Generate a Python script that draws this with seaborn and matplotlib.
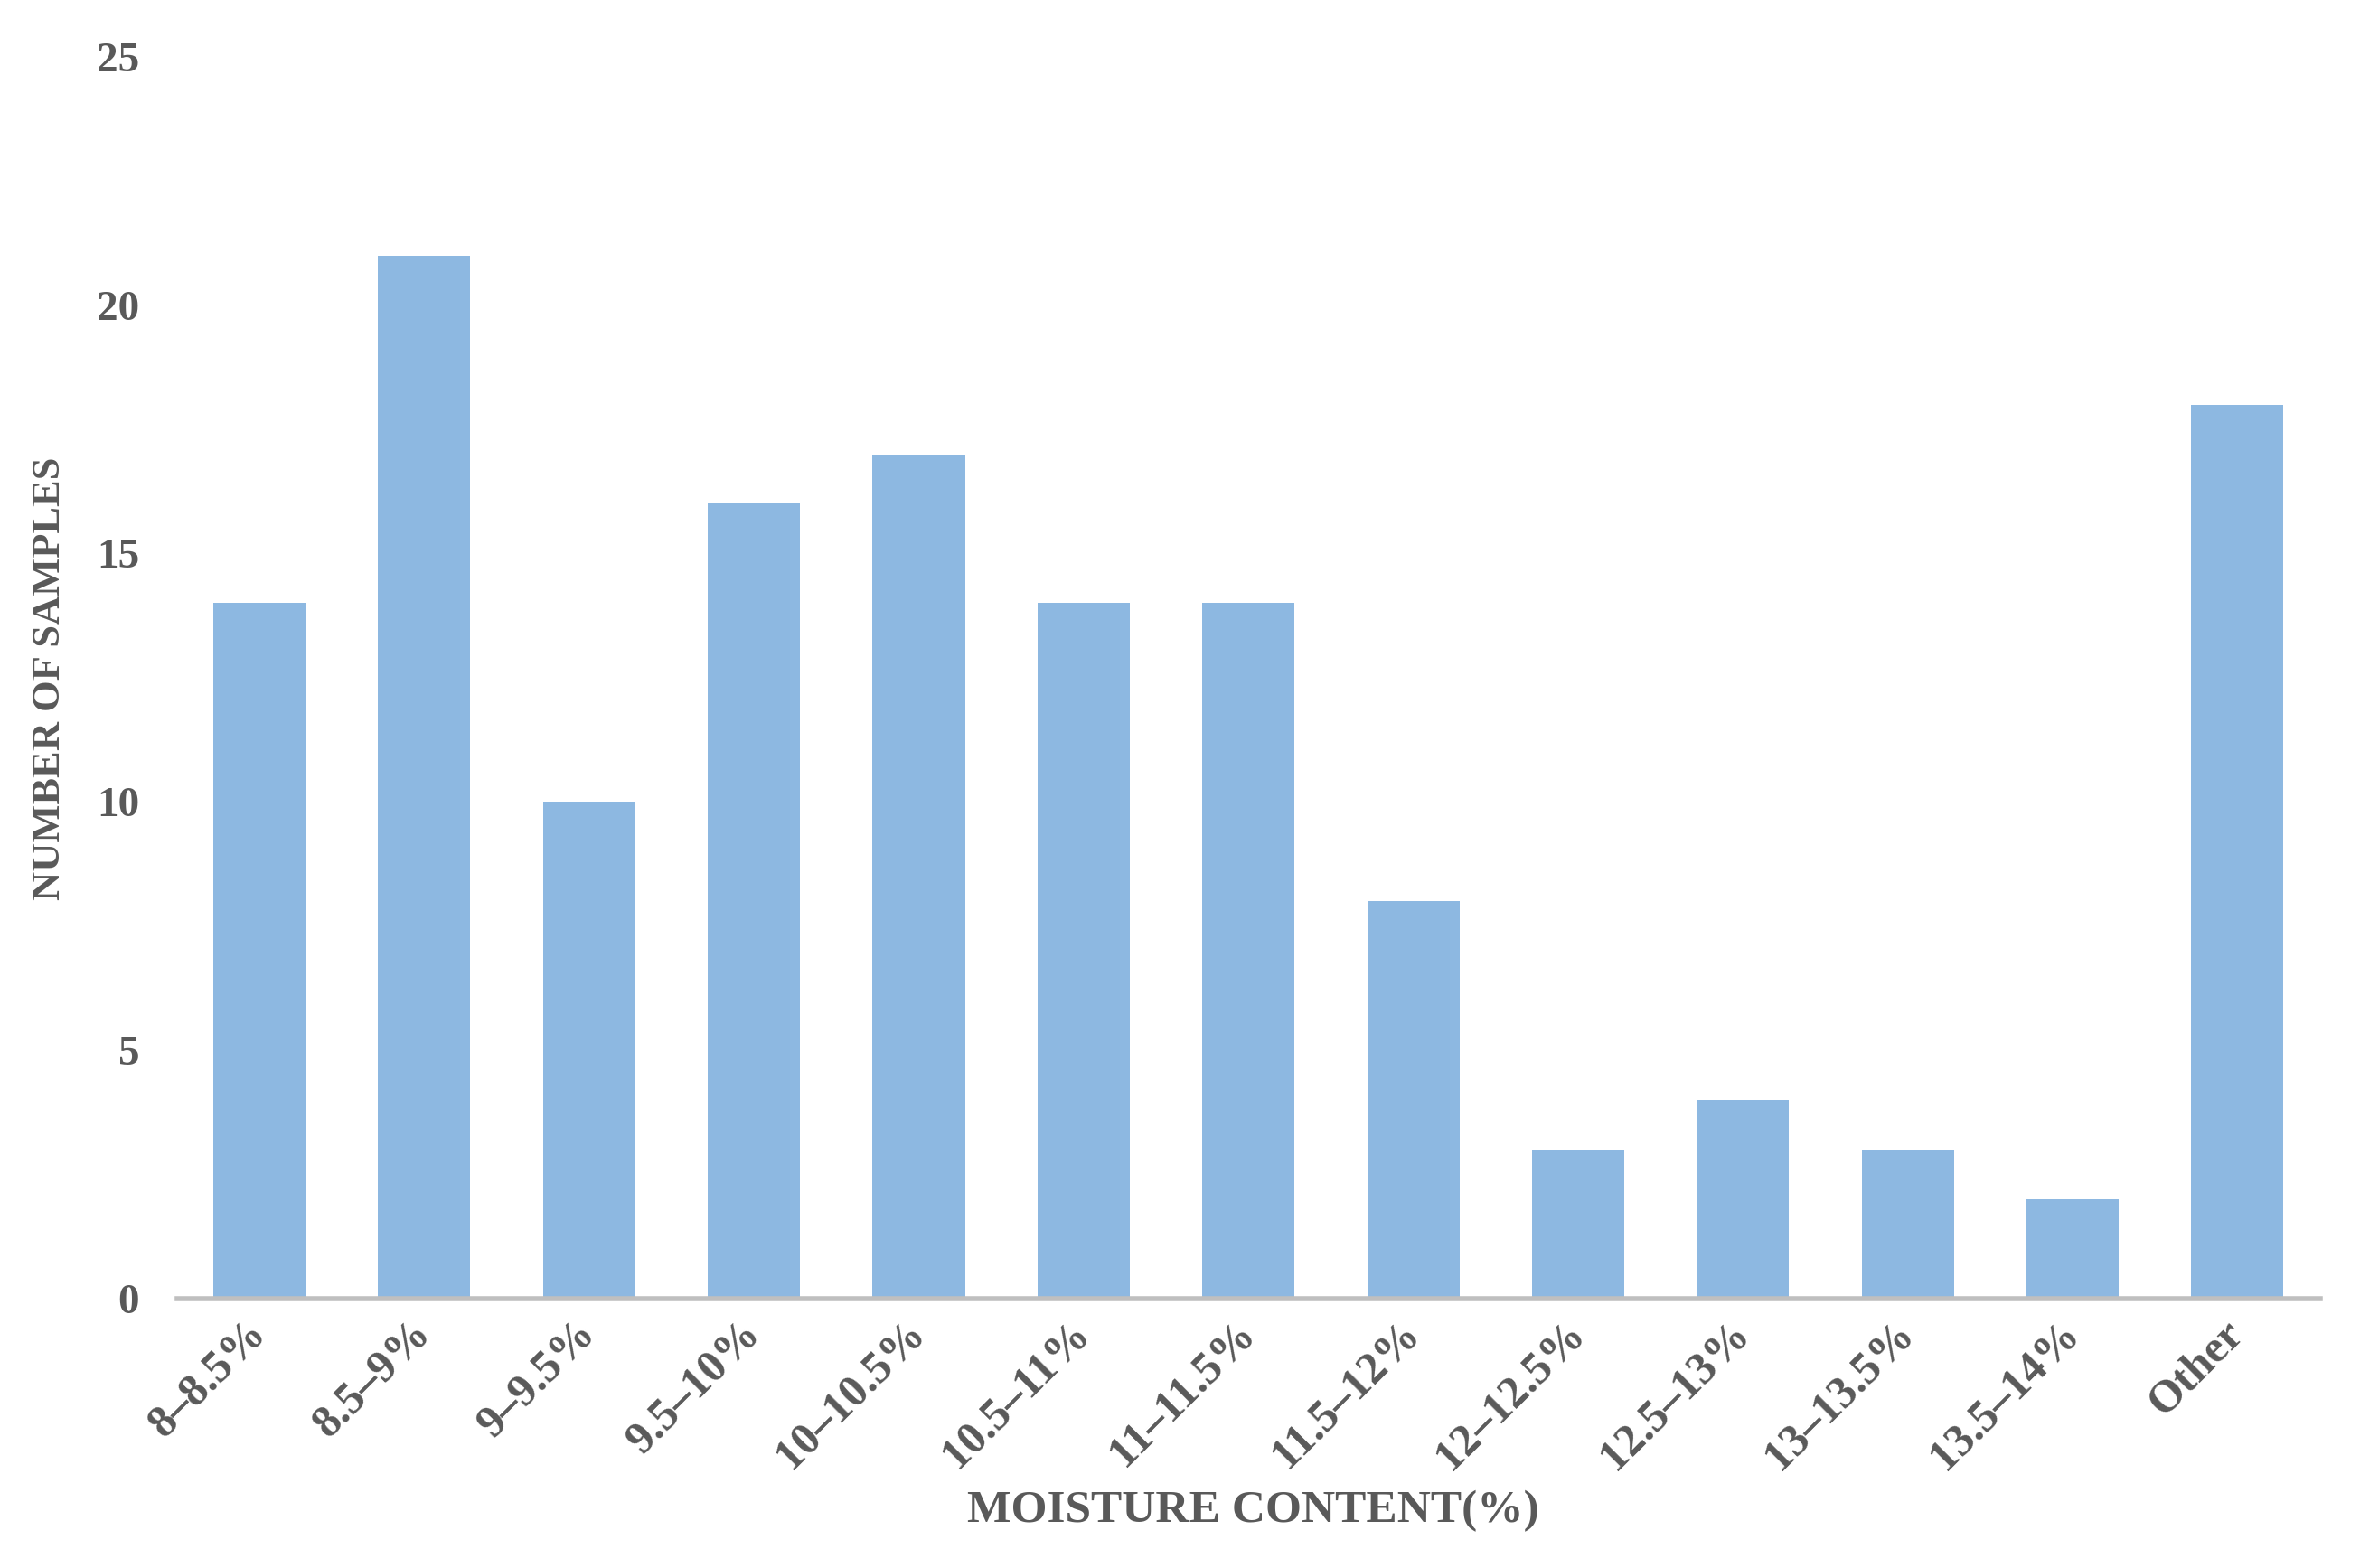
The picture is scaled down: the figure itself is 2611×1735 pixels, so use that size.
import matplotlib
matplotlib.use("Agg")
import matplotlib.pyplot as plt
import seaborn as sns
import pandas as pd

categories = ["8–8.5%", "8.5–9%", "9–9.5%", "9.5–10%", "10–10.5%", "10.5–11%",
              "11–11.5%", "11.5–12%", "12–12.5%", "12.5–13%", "13–13.5%", "13.5–14%", "Other"]
counts = [14, 21, 10, 16, 17, 14, 14, 8, 3, 4, 3, 2, 18]
y_ticks = [0, 5, 10, 15, 20, 25]

df = pd.DataFrame({"range": categories, "count": counts})

sns.set_theme(style="white")
plt.rcParams["font.family"] = ["Liberation Serif", "DejaVu Serif"]
plt.rcParams["font.weight"] = "bold"

TEXT = "#595959"
fig = plt.figure(figsize=(26.11, 17.35), dpi=100)
ax = fig.add_axes([0.075, 0.172, 0.908, 0.7917])

sns.barplot(data=df, x="range", y="count", color="#8DB8E1", saturation=1,
            width=0.56, ax=ax, edgecolor="none")

ax.set_xlim(-0.5, len(categories) - 0.5)
ax.set_ylim(0, 25)
ax.set_yticks(y_ticks)
ax.set_yticklabels([str(t) for t in y_ticks], fontsize=34, fontweight="bold", color=TEXT)
ax.tick_params(axis="y", length=0, pad=30)
ax.tick_params(axis="x", length=0, pad=23)
ax.set_xticks(range(len(categories)))
ax.set_xticklabels(categories, rotation=45, ha="right", va="center",
                   rotation_mode="anchor", fontsize=36, fontweight="bold", color=TEXT)

for s in ["top", "right", "left"]:
    ax.spines[s].set_visible(False)
ax.spines["bottom"].set_color("#BFBFBF")
ax.spines["bottom"].set_linewidth(4)

ax.set_xlabel("")
ax.set_ylabel("")
fig.text(0.531, 0.036, "MOISTURE CONTENT(%)", ha="center", va="center",
         fontsize=37, fontweight="bold", color=TEXT)
fig.text(0.021, 0.567, "NUMBER OF SAMPLES", ha="center", va="center", rotation=90,
         fontsize=32, fontweight="bold", color=TEXT)

fig.savefig("out.png", dpi=100)
